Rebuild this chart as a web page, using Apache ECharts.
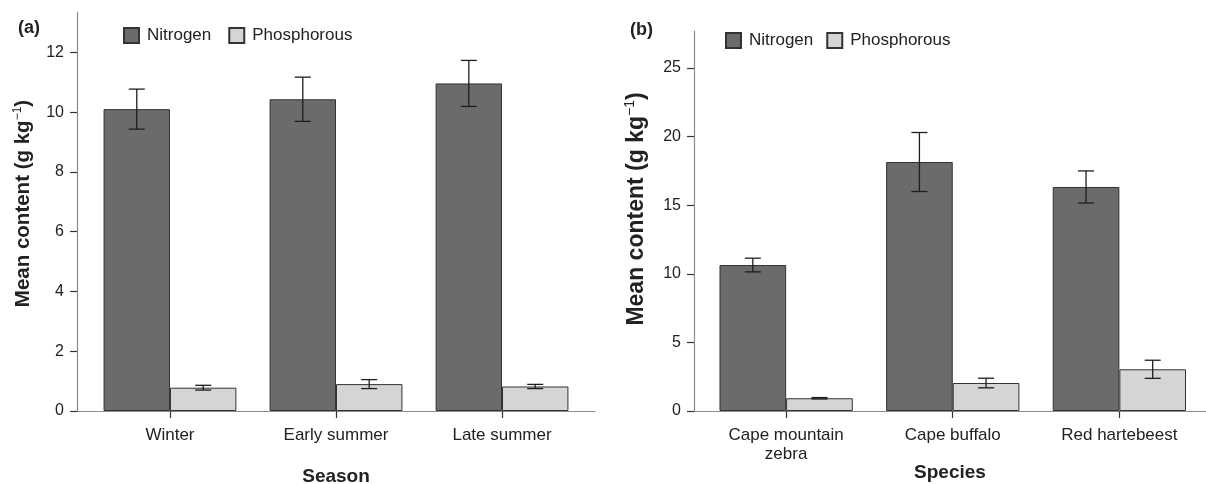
<!DOCTYPE html>
<html>
<head>
<meta charset="utf-8">
<script src="https://cdn.jsdelivr.net/npm/echarts@6/dist/echarts.min.js"></script>
<style>html,body{margin:0;padding:0;background:#fff;}#c{width:1206px;height:484px;}</style>
</head>
<body>
<div id="c"></div>
<script>
// ---- data ----
const seasons = ['Winter', 'Early summer', 'Late summer'];
const seasonN = [10.1, 10.43, 10.96];
const seasonNErr = [0.67, 0.74, 0.77];
const seasonP = [0.78, 0.9, 0.82];
const seasonPErr = [0.08, 0.15, 0.07];

const species = ['Cape mountain\nzebra', 'Cape buffalo', 'Red hartebeest'];
const speciesN = [10.64, 18.15, 16.33];
const speciesNErr = [0.5, 2.15, 1.17];
const speciesP = [0.93, 2.04, 3.04];
const speciesPErr = [0.05, 0.35, 0.66];

const leftTicks = [0, 2, 4, 6, 8, 10, 12];
const rightTicks = [0, 5, 10, 15, 20, 25];
const catPos = [0, 1, 2];

// ---- styles ----
const FONT = 'Liberation Sans, Arial, sans-serif';
const N_FILL = '#6b6b6b', P_FILL = '#d5d5d5', EDGE = '#333333';
const AXIS_COL = '#8c8c8c', TXT = '#222222';

function pairs(vals) { return vals.map((v, i) => [catPos[i], v]); }
function triples(vals, errs) { return vals.map((v, i) => [catPos[i], v, errs[i]]); }

function errRender(sign) {
  return function (params, api) {
    const xv = api.value(0), yv = api.value(1), e = api.value(2);
    const band = api.size([1, 0])[0];
    const off = sign * band * 0.2;
    const top = api.coord([xv, yv + e]);
    const bot = api.coord([xv, yv - e]);
    const x = top[0] + off;
    const cap = 8;
    const st = { stroke: '#1e1e1e', lineWidth: 1.3 };
    return {
      type: 'group',
      children: [
        { type: 'line', shape: { x1: x, y1: top[1], x2: x, y2: bot[1] }, style: st },
        { type: 'line', shape: { x1: x - cap, y1: top[1], x2: x + cap, y2: top[1] }, style: st },
        { type: 'line', shape: { x1: x - cap, y1: bot[1], x2: x + cap, y2: bot[1] }, style: st }
      ]
    };
  };
}

function xAxisCfg(gridIndex, cats, min, max, name, nameGap) {
  return {
    type: 'value', gridIndex: gridIndex, min: min, max: max,
    name: name, nameLocation: 'middle', nameGap: nameGap, nameMoveOverlap: false,
    nameTextStyle: { fontFamily: FONT, fontSize: 19, fontWeight: 'bold', color: TXT },
    axisLine: { show: true, onZero: false, lineStyle: { color: AXIS_COL, width: 1.2 } },
    axisTick: { show: true, length: 7, customValues: catPos, lineStyle: { color: '#333', width: 1.2 } },
    axisLabel: {
      customValues: catPos, margin: 15, fontFamily: FONT, fontSize: 17, color: TXT, lineHeight: 19,
      formatter: function (v) { return cats[Math.round(v)]; }
    },
    splitLine: { show: false }
  };
}

function yAxisCfg(gridIndex, max, ticks, nameSize, nameGap, shift) {
  return {
    type: 'value', gridIndex: gridIndex, min: 0, max: max,
    name: '{b|Mean content (g kg}{s|−1}{b|)}',
    nameLocation: 'middle', nameGap: nameGap, nameRotate: 90, nameMoveOverlap: false,
    nameTextStyle: {
      padding: [0, 0, 0, shift * 2],
      rich: {
        b: { fontFamily: FONT, fontSize: nameSize, fontWeight: 'bold', color: TXT, lineHeight: nameSize + 4 },
        s: { fontFamily: FONT, fontSize: Math.round(nameSize * 0.6), color: TXT, verticalAlign: 'top', lineHeight: nameSize + 4 }
      }
    },
    axisLine: { show: true, onZero: false, lineStyle: { color: AXIS_COL, width: 1.2 } },
    axisTick: { show: true, length: 7, customValues: ticks, lineStyle: { color: '#333', width: 1.2 } },
    axisLabel: { customValues: ticks, margin: 13, fontFamily: FONT, fontSize: 16, color: TXT },
    splitLine: { show: false }
  };
}

function barSeries(name, idx, vals, fill) {
  return {
    type: 'bar', name: name, xAxisIndex: idx, yAxisIndex: idx,
    data: pairs(vals), barGap: '0%', barCategoryGap: '20%',
    itemStyle: { color: fill, borderColor: EDGE, borderWidth: 1 },
    emphasis: { disabled: true }, z: 2
  };
}
function errSeries(name, idx, vals, errs, sign) {
  return {
    type: 'custom', name: name, xAxisIndex: idx, yAxisIndex: idx,
    data: triples(vals, errs), renderItem: errRender(sign), z: 5, silent: true,
    encode: { x: 0, y: [1] }
  };
}

const chart = echarts.init(document.getElementById('c'), null, { renderer: 'canvas' });
chart.setOption({
  animation: false,
  backgroundColor: '#ffffff',
  title: [
    { text: '(a)', left: 13, top: 14, textStyle: { fontFamily: FONT, fontSize: 18, fontWeight: 'bold', color: TXT } },
    { text: '(b)', left: 625, top: 16, textStyle: { fontFamily: FONT, fontSize: 18, fontWeight: 'bold', color: TXT } }
  ],
  legend: [
    { data: ['Nitrogen', 'Phosphorous'], left: 123, top: 27, padding: 0, icon: 'rect', itemWidth: 15, itemHeight: 15, itemGap: 17,
      textStyle: { fontFamily: FONT, fontSize: 17, color: TXT, padding: [0, 0, 0, 3] } },
    { data: ['Nitrogen', 'Phosphorous'], left: 725, top: 32, padding: 0, icon: 'rect', itemWidth: 15, itemHeight: 15, itemGap: 13,
      textStyle: { fontFamily: FONT, fontSize: 17, color: TXT, padding: [0, 0, 0, 3] } }
  ],
  grid: [
    { left: 77, right: 611, top: 12, bottom: 73, containLabel: false, outerBoundsMode: 'none' },
    { left: 694, right: 0, top: 31, bottom: 73, containLabel: false, outerBoundsMode: 'none' }
  ],
  xAxis: [
    xAxisCfg(0, seasons, -0.56, 2.56, 'Season', 56),
    xAxisCfg(1, species, -0.553, 2.52, 'Species', 52)
  ],
  yAxis: [
    yAxisCfg(0, 13.35, leftTicks, 20.5, 41, 8),
    yAxisCfg(1, 27.7, rightTicks, 23, 44, 12)
  ],
  series: [
    barSeries('Nitrogen', 0, seasonN, N_FILL),
    barSeries('Phosphorous', 0, seasonP, P_FILL),
    errSeries('NitrogenErrA', 0, seasonN, seasonNErr, -1),
    errSeries('PhosphorousErrA', 0, seasonP, seasonPErr, 1),
    barSeries('Nitrogen', 1, speciesN, N_FILL),
    barSeries('Phosphorous', 1, speciesP, P_FILL),
    errSeries('NitrogenErrB', 1, speciesN, speciesNErr, -1),
    errSeries('PhosphorousErrB', 1, speciesP, speciesPErr, 1)
  ]
});
</script>
</body>
</html>
